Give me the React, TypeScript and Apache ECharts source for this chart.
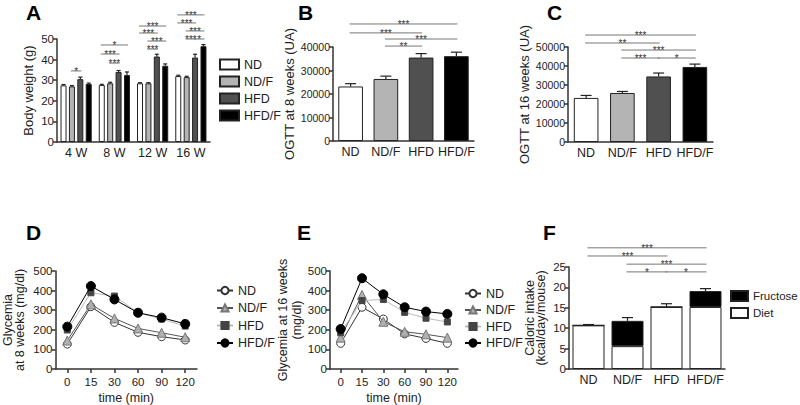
import React, { useEffect, useRef } from 'react';
import * as echarts from 'echarts';

const FONT = '"Liberation Sans", Arial, Helvetica, sans-serif';

// ---------- Data ----------
const groups = ['ND', 'ND/F', 'HFD', 'HFD/F'];
const weeks = ['4 W', '8 W', '12 W', '16 W'];
const bwND = [27.5, 27.7, 28.5, 32.0];
const bwNDF = [27.0, 28.5, 28.5, 31.5];
const bwHFD = [30.5, 34.0, 41.5, 41.0];
const bwHFDF = [28.2, 32.5, 37.0, 46.5];
const bwErrND = [0.4, 0.3, 0.3, 0.4];
const bwErrNDF = [0.4, 0.5, 0.3, 0.4];
const bwErrHFD = [1.0, 0.7, 1.1, 1.6];
const bwErrHFDF = [0.4, 1.5, 0.9, 0.8];

const ogtt8 = [23200, 26400, 35500, 36100];
const ogtt8Err = [1200, 1200, 1700, 1700];
const ogtt16 = [23200, 25800, 34500, 39500];
const ogtt16Err = [1300, 800, 1800, 1500];

const times = ['0', '15', '30', '60', '90', '120'];
const g8ND = [127, 318, 238, 187, 165, 148];
const g8NDF = [145, 330, 258, 207, 185, 162];
const g8HFD = [199, 389, 372, 287, 255, 219];
const g8HFDF = [216, 423, 355, 287, 262, 230];
const g16ND = [131, 315, 255, 179, 156, 131];
const g16NDF = [160, 378, 241, 190, 177, 160];
const g16HFD = [185, 349, 355, 289, 259, 240];
const g16HFDF = [204, 463, 381, 315, 293, 281];

const calDiet = [10.7, 5.6, 15.2, 15.2];
const calFructose = [0, 6.2, 0, 3.9];
const calErr = [0.2, 0.8, 0.8, 0.6];

// significance brackets: [category, fromGroup, toGroup, yValue, label]
const sigA: any[] = [
  [0, 1, 2, 34.5, '*'],
  [1, 0, 3, 47.1, '*'], [1, 0, 2, 42.7, '***'], [1, 1, 2, 38.3, '***'],
  [2, 0, 3, 56.3, '***'], [2, 0, 2, 52.9, '***'], [2, 1, 3, 49.0, '***'], [2, 1, 2, 45.1, '***'],
  [3, 0, 3, 61.7, '***'], [3, 0, 2, 57.8, '***'], [3, 1, 3, 53.9, '***'], [3, 1, 2, 50.0, '***'], [3, 2, 3, 50.0, '*'],
];
const sigB: any[] = [
  [0, 0, 3, 49800, '***'], [0, 0, 2, 46000, '***'], [0, 1, 3, 43400, '***'], [0, 1, 2, 40400, '**'],
];
const sigC: any[] = [
  [0, 0, 3, 56300, '***'], [0, 0, 2, 52100, '**'], [0, 1, 3, 48400, '***'], [0, 1, 2, 44200, '***'], [0, 2, 3, 44200, '*'],
];
const sigF: any[] = [
  [0, 0, 3, 29.7, '***'], [0, 0, 2, 27.7, '***'], [0, 1, 3, 25.7, '***'], [0, 1, 2, 23.8, '*'], [0, 2, 3, 23.8, '*'],
];

const barColors = ['#ffffff', '#b4b4b4', '#505050', '#000000'];
const A_BAR_W = 6;
const A_STEP = A_BAR_W * 1.4;

const axisColor = '#333';

function yAxisBase(gridIndex: number, max: number, interval: number, name: string, nameGap: number, nameSize = 13, tickSize = 11.5, lh = 15) {
  return {
    type: 'value', gridIndex, min: 0, max, interval,
    name, nameLocation: 'middle', nameGap, nameRotate: 90,
    nameTextStyle: { fontFamily: FONT, fontSize: nameSize, color: '#222', lineHeight: lh },
    axisLine: { show: true, lineStyle: { color: axisColor, width: 1.5 } },
    axisTick: { show: true, length: 4, lineStyle: { color: axisColor, width: 1.5 } },
    axisLabel: { fontFamily: FONT, fontSize: tickSize, color: '#222', margin: 3, formatter: (v: number) => String(v) },
    splitLine: { show: false },
  };
}

function xAxisCat(gridIndex: number, data: string[], opts: any = {}) {
  return {
    type: 'category', gridIndex, data,
    axisLine: { show: true, lineStyle: { color: axisColor, width: 1.5 } },
    axisTick: { show: false },
    axisLabel: { fontFamily: FONT, fontSize: 12.5, color: '#222', margin: 4, interval: 0, hideOverlap: false },
    splitLine: { show: false },
    ...opts,
  };
}

function sigSeries(sig: any[], xi: number, yi: number, xOf: (api: any, cat: number, g: number) => number) {
  return {
    type: 'custom', xAxisIndex: xi, yAxisIndex: yi, silent: true, z: 10,
    itemStyle: { color: '#333' },
    data: sig.map((d) => [d[0], d[3]]),
    encode: { x: 0, y: 1 },
    renderItem: (params: any, api: any) => {
      const d = sig[params.dataIndex];
      const y = api.coord([d[0], d[3]])[1];
      const x1 = xOf(api, d[0], d[1]) - 1;
      const x2 = xOf(api, d[0], d[2]) + 1;
      return {
        type: 'group',
        children: [
          { type: 'line', shape: { x1, y1: y, x2, y2: y }, style: { stroke: '#777', lineWidth: 1, fill: null } },
          {
            type: 'text', x: (x1 + x2) / 2, y: y + 0.5,
            style: { text: d[4], fontSize: 10, fontFamily: FONT, fill: '#333', stroke: null, align: 'center', verticalAlign: 'middle' },
          },
        ],
      };
    },
  };
}

function errSeries(vals: number[], errs: number[], xi: number, yi: number, xOf: (api: any, i: number) => number, cap: number) {
  return {
    type: 'custom', xAxisIndex: xi, yAxisIndex: yi, silent: true, z: 5,
    itemStyle: { color: '#222' },
    data: vals.map((v, i) => [i, v, errs[i]]),
    encode: { x: 0, y: 1 },
    renderItem: (params: any, api: any) => {
      const i = params.dataIndex;
      const x = xOf(api, i);
      const yb = api.coord([i, vals[i]])[1];
      const yt = api.coord([i, vals[i] + errs[i]])[1];
      return {
        type: 'group',
        children: [
          { type: 'line', shape: { x1: x, y1: yb, x2: x, y2: yt }, style: { stroke: '#222', lineWidth: 1.2 } },
          { type: 'line', shape: { x1: x - cap / 2, y1: yt, x2: x + cap / 2, y2: yt }, style: { stroke: '#222', lineWidth: 1.2 } },
        ],
      };
    },
  };
}

const strip = (n: string) => n.split(':')[1];

export default function App() {
  const ref = useRef<HTMLDivElement>(null);
  useEffect(() => {
    if (!ref.current) return;
    const chart = echarts.init(ref.current, null, { renderer: 'svg' });

    const bwSeries = [bwND, bwNDF, bwHFD, bwHFDF];
    const bwErrs = [bwErrND, bwErrNDF, bwErrHFD, bwErrHFDF];

    const xA = (api: any, cat: number, g: number) => api.coord([cat, 0])[0] + (g - 1.5) * A_STEP;
    const xSingle = (api: any, _cat: number, g: number) => api.coord([g, 0])[0];

    const lineStyles = [
      { symbol: 'circle', symbolSize: 8, color: '#ffffff', border: '#333', line: '#333' },
      { symbol: 'triangle', symbolSize: 9, color: '#b0b0b0', border: '#777', line: '#555' },
      { symbol: 'rect', symbolSize: 6, color: '#444444', border: '#444', line: '#bbb' },
      { symbol: 'circle', symbolSize: 9, color: '#000000', border: '#000', line: '#000' },
    ];
    const g8 = [g8ND, g8NDF, g8HFD, g8HFDF];
    const g16 = [g16ND, g16NDF, g16HFD, g16HFDF];

    const mkLine = (prefix: string, data: number[][], xi: number) =>
      data.map((d, k) => ({
        name: prefix + ':' + groups[k], type: 'line', xAxisIndex: xi, yAxisIndex: xi,
        data: d, symbol: lineStyles[k].symbol, symbolSize: lineStyles[k].symbolSize,
        itemStyle: { color: lineStyles[k].color, borderColor: lineStyles[k].border, borderWidth: 1 },
        lineStyle: { color: lineStyles[k].line, width: 1 },
        z: 2 + k,
      }));

    const panelLabel = (t: string, x: number, y: number) => ({
      type: 'text', left: x, top: y,
      style: { text: t, fontFamily: FONT, fontSize: 21, fontWeight: 'bold', fill: '#000' },
    });

    const timeAxisOpts = {
      axisTick: { show: true, alignWithLabel: true, length: 4, lineStyle: { color: axisColor, width: 1.5 } },
      axisLabel: { fontFamily: FONT, fontSize: 11.5, color: '#222', margin: 7, interval: 0, hideOverlap: false },
      name: 'time (min)', nameLocation: 'middle', nameGap: 22,
      nameTextStyle: { fontFamily: FONT, fontSize: 12.5, color: '#222' },
    };

    const option: any = {
      animation: false,
      backgroundColor: '#fff',
      textStyle: { fontFamily: FONT },
      grid: [
        { left: 57, top: 39, width: 153, height: 103 },
        { left: 333, top: 47, width: 141, height: 94 },
        { left: 568, top: 47, width: 145, height: 95 },
        { left: 55, top: 271, width: 142, height: 98 },
        { left: 330, top: 271, width: 128, height: 98 },
        { left: 569, top: 267, width: 156, height: 102 },
      ],
      xAxis: [
        xAxisCat(0, weeks),
        xAxisCat(1, groups),
        xAxisCat(2, groups),
        xAxisCat(3, times, timeAxisOpts),
        xAxisCat(4, times, timeAxisOpts),
        xAxisCat(5, groups),
      ],
      yAxis: [
        yAxisBase(0, 50, 10, 'Body weight (g)', 21),
        yAxisBase(1, 40000, 10000, 'OGTT at 8 weeks (UA)', 24, 13, 10.5),
        yAxisBase(2, 50000, 10000, 'OGTT at 16 weeks (UA)', 21, 13, 10.5),
        yAxisBase(3, 500, 100, 'Glycemia\nat 8 weeks (mg/dl)', 30, 12.5, 11.5, 12),
        yAxisBase(4, 500, 100, 'Glycemia at 16 weeks\n(mg/dl)', 26, 12.5, 11.5, 14),
        yAxisBase(5, 25, 5, 'Caloric intake\n(kcal/day/mouse)', 22, 12.5, 11.5, 11.5),
      ],
      legend: [
        {
          orient: 'vertical', left: 214, top: 53, itemWidth: 19, itemHeight: 10, itemGap: 4, icon: 'rect',
          data: groups.map((g) => 'A:' + g), formatter: strip, selectedMode: false,
          textStyle: { fontFamily: FONT, fontSize: 12.5, color: '#222' },
        },
        {
          orient: 'vertical', left: 211, top: 279, itemWidth: 16, itemHeight: 9, itemGap: 4.5,
          data: groups.map((g) => 'D:' + g), formatter: strip, selectedMode: false,
          textStyle: { fontFamily: FONT, fontSize: 12.5, color: '#222' },
        },
        {
          orient: 'vertical', left: 459, top: 282, itemWidth: 16, itemHeight: 9, itemGap: 3.5,
          data: groups.map((g) => 'E:' + g), formatter: strip, selectedMode: false,
          textStyle: { fontFamily: FONT, fontSize: 12.5, color: '#222' },
        },
        {
          orient: 'vertical', left: 725, top: 285, itemWidth: 17, itemHeight: 10, itemGap: 5, icon: 'rect',
          data: ['F:Fructose', 'F:Diet'], formatter: strip, selectedMode: false,
          textStyle: { fontFamily: FONT, fontSize: 11.5, color: '#222' },
        },
      ],
      graphic: [
        panelLabel('A', 26, 2),
        panelLabel('B', 298, 2),
        panelLabel('C', 547, 2),
        panelLabel('D', 26, 222),
        panelLabel('E', 297, 222),
        panelLabel('F', 543, 222),
      ],
      series: [
        // Panel A
        ...bwSeries.map((d, k) => ({
          name: 'A:' + groups[k], type: 'bar', xAxisIndex: 0, yAxisIndex: 0, data: d,
          barWidth: A_BAR_W, barGap: '40%',
          itemStyle: { color: barColors[k], borderColor: '#222', borderWidth: 1 },
        })),
        ...bwSeries.map((d, k) =>
          errSeries(d, bwErrs[k], 0, 0, (api: any, i: number) => api.coord([i, 0])[0] + (k - 1.5) * A_STEP, 4)),
        sigSeries(sigA, 0, 0, xA),
        // Panel B
        {
          type: 'bar', xAxisIndex: 1, yAxisIndex: 1, barWidth: '70%',
          data: ogtt8.map((v, i) => ({ value: v, itemStyle: { color: barColors[i] } })),
          itemStyle: { borderColor: '#222', borderWidth: 1 },
        },
        errSeries(ogtt8, ogtt8Err, 1, 1, (api: any, i: number) => api.coord([i, 0])[0], 11),
        sigSeries(sigB, 1, 1, xSingle),
        // Panel C
        {
          type: 'bar', xAxisIndex: 2, yAxisIndex: 2, barWidth: '68%',
          data: ogtt16.map((v, i) => ({ value: v, itemStyle: { color: barColors[i] } })),
          itemStyle: { borderColor: '#222', borderWidth: 1 },
        },
        errSeries(ogtt16, ogtt16Err, 2, 2, (api: any, i: number) => api.coord([i, 0])[0], 11),
        sigSeries(sigC, 2, 2, xSingle),
        // Panel D, E
        ...mkLine('D', g8, 3),
        ...mkLine('E', g16, 4),
        // Panel F
        {
          name: 'F:Diet', type: 'bar', stack: 'cal', xAxisIndex: 5, yAxisIndex: 5, barWidth: '82%',
          data: calDiet, itemStyle: { color: '#ffffff', borderColor: '#222', borderWidth: 1 },
        },
        {
          name: 'F:Fructose', type: 'bar', stack: 'cal', xAxisIndex: 5, yAxisIndex: 5, barWidth: '82%',
          data: calFructose, itemStyle: { color: '#000000', borderColor: '#222', borderWidth: 1 },
        },
        errSeries(calDiet.map((v, i) => v + calFructose[i]), calErr, 5, 5, (api: any, i: number) => api.coord([i, 0])[0], 11),
        sigSeries(sigF, 5, 5, xSingle),
      ],
    };
    chart.setOption(option);
    return () => chart.dispose();
  }, []);
  return <div ref={ref} style={{ position: 'fixed', left: 0, top: 0, width: 800, height: 405, background: '#fff' }} />;
}
